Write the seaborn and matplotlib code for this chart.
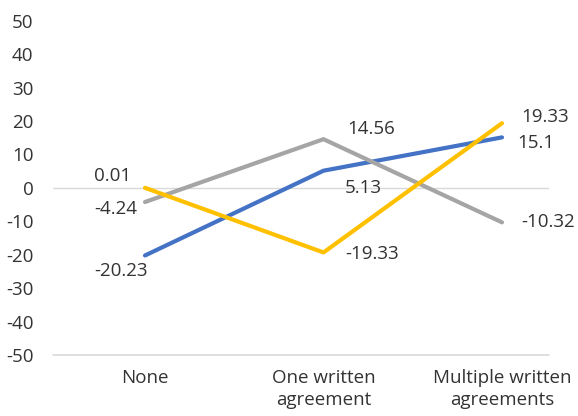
import matplotlib
matplotlib.use("Agg")
import matplotlib.pyplot as plt
import seaborn as sns
import pandas as pd

categories = ["None", "One written\nagreement", "Multiple written\nagreements"]
series_names = ["Series1", "Series2", "Series3"]
blue_vals = [-20.23, 5.13, 15.1]
gray_vals = [-4.24, 14.56, -10.32]
yellow_vals = [0.01, -19.33, 19.33]
y_ticks = [-50, -40, -30, -20, -10, 0, 10, 20, 30, 40, 50]

colors = ["#4472C4", "#A5A5A5", "#FFC000"]
# label offsets in pixels (dx, dy)
offsets = [
    [(-24, -16), (40, -17), (34, -6)],
    [(-29, -7), (48, 10), (46, 0)],
    [(-32, 12), (49, -2), (43, 6)],
]

rows = []
for name, vals in zip(series_names, [blue_vals, gray_vals, yellow_vals]):
    for i, v in enumerate(vals):
        rows.append({"series": name, "x": i, "value": v})
df = pd.DataFrame(rows)

sns.set_theme(style="white")
plt.rcParams["font.family"] = ["Open Sans", "DejaVu Sans"]
text_color = "#333333"
fs = 13.5

fig = plt.figure(figsize=(5.78, 4.16), dpi=100)
W, H = 578, 416
left_px, right_px, top_px, bot_px = 53, 549, 20.7, 355
ax = fig.add_axes([left_px / W, 1 - bot_px / H, (right_px - left_px) / W, (bot_px - top_px) / H])

sns.lineplot(data=df, x="x", y="value", hue="series", palette=colors,
             linewidth=3, legend=False, ax=ax, zorder=3)

x0 = (left_px - 145) / 178.5
x1 = (right_px - 145) / 178.5
ax.set_xlim(x0, x1)
ax.set_ylim(-50, 50)
ax.axhline(0, color="#D9D9D9", lw=1, zorder=1)
ax.axhline(-50, color="#D9D9D9", lw=1.2, zorder=1, clip_on=False)
for s in ax.spines.values():
    s.set_visible(False)

ax.set_xticks(range(len(categories)))
ax.set_xticklabels(categories, fontsize=fs, color=text_color, linespacing=1.3)
ax.set_yticks(y_ticks)
ax.set_yticklabels([str(t) for t in y_ticks], fontsize=fs, color=text_color)
ax.tick_params(axis="both", length=0)
ax.tick_params(axis="x", pad=10)
ax.tick_params(axis="y", pad=14)
ax.set_xlabel("")
ax.set_ylabel("")

for vals, offs in zip([blue_vals, gray_vals, yellow_vals], offsets):
    for i, (v, o) in enumerate(zip(vals, offs)):
        ax.annotate(f"{v:g}", xy=(i, v), xytext=o, textcoords="offset pixels",
                    ha="center", va="center", fontsize=fs, color=text_color,
                    annotation_clip=False)

fig.savefig("out.png", dpi=100)
